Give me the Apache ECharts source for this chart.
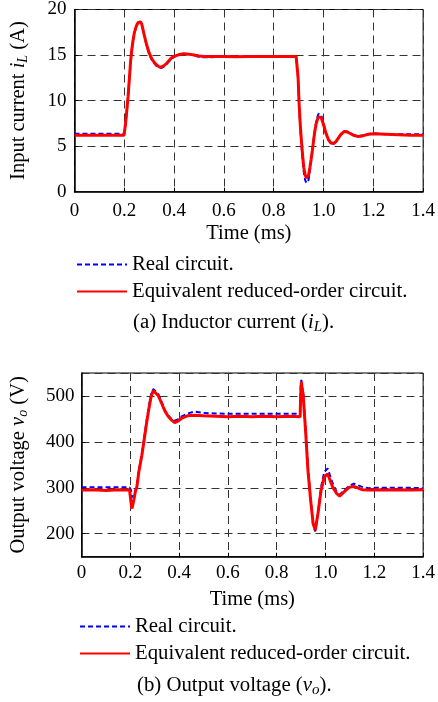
<!DOCTYPE html>
<html>
<head>
<meta charset="utf-8">
<script src="https://cdn.jsdelivr.net/npm/echarts@6/dist/echarts.min.js"></script>
<style>
html,body{margin:0;padding:0;background:#fff;}
#chart{width:438px;height:702px;}
</style>
</head>
<body>
<div id="chart"></div>
<script>
// ---- data: (a) inductor current ----
var tIL = [0, 0.1, 0.199, 0.2, 0.205,
  0.21, 0.215, 0.22, 0.225, 0.23,
  0.235, 0.24, 0.245, 0.25, 0.255,
  0.26, 0.265, 0.27, 0.28, 0.29,
  0.30, 0.31, 0.32, 0.33, 0.34,
  0.35, 0.36, 0.37, 0.38, 0.39,
  0.40, 0.42, 0.44, 0.46, 0.48,
  0.50, 0.52, 0.55, 0.60, 0.65,
  0.70, 0.75, 0.80, 0.85, 0.89,
  0.895, 0.898, 0.902, 0.907, 0.912,
  0.917, 0.921, 0.926, 0.931, 0.935,
  0.94, 0.945, 0.95, 0.955, 0.96,
  0.965, 0.97, 0.975, 0.98, 0.985,
  0.99, 0.995, 1.0, 1.01, 1.02,
  1.03, 1.04, 1.05, 1.06, 1.07,
  1.08, 1.09, 1.10, 1.12, 1.14,
  1.16, 1.18, 1.20, 1.25, 1.30,
  1.35, 1.40];
var iLReal = [6.35, 6.35, 6.35, 6.35, 7.4,
  8.8, 10.3, 12.2, 14.1, 15.5,
  16.5, 17.3, 17.9, 18.3, 18.55,
  18.7, 18.65, 18.4, 17.2, 16.0,
  15.1, 14.5, 14.1, 13.8, 13.6,
  13.6, 13.75, 14.0, 14.3, 14.6,
  14.8, 15.05, 15.15, 15.1, 14.95,
  14.8, 14.75, 14.75, 14.85, 14.8,
  14.85, 14.85, 14.85, 14.9, 14.9,
  14.85, 12.3, 9.4, 6.9, 4.9,
  3.2, 2.1, 1.3, 0.95, 0.9,
  1.3, 2.2, 3.3, 4.4, 5.6,
  6.7, 7.6, 8.2, 8.55, 8.65,
  8.45, 8.0, 7.5, 6.45, 5.65,
  5.3, 5.25, 5.45, 5.9, 6.3,
  6.6, 6.65, 6.55, 6.25, 6.1,
  6.2, 6.3, 6.4, 6.3, 6.3,
  6.3, 6.3];
var iLEquiv = [6.2, 6.2, 6.2, 6.2, 7.5,
  8.9, 10.4, 12.3, 14.2, 15.6,
  16.6, 17.4, 17.9, 18.3, 18.55,
  18.7, 18.65, 18.4, 17.2, 16.1,
  15.2, 14.6, 14.2, 13.9, 13.7,
  13.7, 13.85, 14.1, 14.4, 14.7,
  14.85, 15.05, 15.15, 15.1, 15.0,
  14.9, 14.85, 14.85, 14.85, 14.8,
  14.85, 14.85, 14.85, 14.85, 14.85,
  14.8, 12.5, 9.6, 7.2, 5.3,
  3.7, 2.6, 1.9, 1.5, 1.45,
  1.8, 2.6, 3.5, 4.5, 5.6,
  6.6, 7.4, 7.9, 8.2, 8.3,
  8.15, 7.8, 7.35, 6.4, 5.7,
  5.35, 5.3, 5.5, 5.9, 6.3,
  6.55, 6.6, 6.5, 6.2, 6.05,
  6.15, 6.3, 6.35, 6.3, 6.25,
  6.2, 6.2];

// ---- data: (b) output voltage ----
var tVo = [0, 0.05, 0.1, 0.15, 0.197,
  0.2, 0.203, 0.206, 0.21, 0.215,
  0.22, 0.227, 0.235, 0.247, 0.257,
  0.267, 0.277, 0.285, 0.294, 0.30,
  0.314, 0.33, 0.341, 0.355, 0.368,
  0.382, 0.395, 0.409, 0.436, 0.463,
  0.5, 0.55, 0.6, 0.65, 0.7,
  0.75, 0.8, 0.85, 0.896, 0.898,
  0.901, 0.904, 0.908, 0.919, 0.928,
  0.939, 0.949, 0.958, 0.969, 0.982,
  0.995, 1.009, 1.029, 1.045, 1.058,
  1.076, 1.096, 1.116, 1.15, 1.177,
  1.2, 1.25, 1.3, 1.35, 1.4];
var voReal = [301, 301, 301, 301, 301,
  301, 295, 280, 277, 282,
  292, 308, 337, 373, 410,
  447, 480, 503, 515, 517,
  505, 485, 470, 458, 450,
  446, 449, 455, 462, 466,
  463, 462, 461, 461, 461,
  461, 461, 461, 461, 520,
  535, 520, 510, 425, 345,
  275, 220, 205, 245, 302,
  335, 342, 310, 292, 285,
  294, 304, 309, 302, 299,
  300, 300, 300, 300, 299];
var voEquiv = [295, 296, 294, 296, 295,
  295, 268, 255, 262, 275,
  290, 302, 335, 370, 405,
  442, 475, 498, 512, 511,
  501, 482, 468, 456, 448,
  442, 445, 451, 457, 458,
  457, 456, 455, 456, 455,
  456, 455, 456, 455, 500,
  531, 515, 505, 418, 338,
  273, 223, 208, 244, 295,
  324, 330, 302, 288, 282,
  291, 301, 303, 296, 295,
  296, 295, 296, 295, 296];

var seriesNames = ['Real circuit.', 'Equivalent reduced-order circuit.'];
var xLabel = 'Time (ms)';
var yLabelA = 'Input current {i|i}{sub|L} (A)';
var yLabelB = 'Output voltage {i|v}{sub|o} (V)';
var captionA = '(a) Inductor current ({i|i}{sub|L}).';
var captionB = '(b) Output voltage ({i|v}{sub|o}).';

function pairs(t, v) { return t.map(function (x, k) { return [x, v[k]]; }); }

var FONT = 'Liberation Serif';
function richFor(size) {
  return {
    i: { fontFamily: FONT, fontSize: size, fontStyle: 'italic', color: '#000' },
    sub: { fontFamily: FONT, fontSize: Math.round(size * 0.7), fontStyle: 'italic', color: '#000', padding: [10, 0, 0, 0] }
  };
}

function xAxisCfg(gi, gap, margin) {
  return {
    type: 'value', gridIndex: gi, min: 0, max: 1.4, interval: 0.2,
    name: xLabel, nameLocation: 'middle', nameGap: gap,
    nameTextStyle: { fontFamily: FONT, fontSize: 20.5, color: '#000' },
    axisLine: { lineStyle: { color: '#000', width: 1.5 } },
    axisTick: { show: true, inside: true, length: 4, lineStyle: { color: '#000' } },
    axisLabel: { fontFamily: FONT, fontSize: 19, color: '#000', margin: margin,
      formatter: function (v) { return v === 0 ? '0' : v.toFixed(1); } },
    splitLine: { show: true, lineStyle: { color: '#333', type: [8, 5], width: 1 } }
  };
}
function yAxisCfg(gi, cfg) {
  var base = {
    type: 'value', gridIndex: gi,
    nameLocation: 'middle', nameRotate: 90,
    nameTextStyle: { fontFamily: FONT, fontSize: 20.5, color: '#000', rich: richFor(20.5) },
    axisLine: { show: true, lineStyle: { color: '#000', width: 1.5 } },
    axisTick: { show: true, inside: true, length: 4, lineStyle: { color: '#000' } },
    axisLabel: { fontFamily: FONT, fontSize: 19, color: '#000', margin: 8 },
    splitLine: { show: true, lineStyle: { color: '#333', type: [8, 5], width: 1 } }
  };
  for (var k in cfg) base[k] = cfg[k];
  return base;
}
function blue(gi, data) {
  return { name: seriesNames[0], type: 'line', xAxisIndex: gi, yAxisIndex: gi, data: data,
    symbol: 'none', silent: true, animation: false,
    lineStyle: { color: '#0000ff', width: 2, type: [5, 3] }, itemStyle: { color: '#0000ff' } };
}
function red(gi, data) {
  return { name: seriesNames[1], type: 'line', xAxisIndex: gi, yAxisIndex: gi, data: data,
    symbol: 'none', silent: true, animation: false,
    lineStyle: { color: '#ff0000', width: 3 }, itemStyle: { color: '#ff0000' } };
}
function legendCfg(left, top) {
  return { data: seriesNames, orient: 'vertical', left: left, top: top, padding: 0,
    itemWidth: 50, itemHeight: 12, itemGap: 6, selectedMode: false,
    itemStyle: { color: 'transparent', borderColor: 'transparent', borderWidth: 0, opacity: 0 },
    lineStyle: { width: 2 },
    textStyle: { fontFamily: FONT, fontSize: 20.8, color: '#000', lineHeight: 20 } };
}

var chart = echarts.init(document.getElementById('chart'), null, { renderer: 'canvas' });
chart.setOption({
  animation: false,
  backgroundColor: '#fff',
  grid: [
    { left: 72.7, top: 7.7, width: 353, height: 184, show: true, borderColor: '#000', borderWidth: 1, containLabel: false },
    { left: 79, top: 373, width: 346, height: 183.7, show: true, borderColor: '#000', borderWidth: 1, containLabel: false }
  ],
  xAxis: [xAxisCfg(0, 31, 10), xAxisCfg(1, 32, 7)],
  yAxis: [
    yAxisCfg(0, { min: 0, max: 20, interval: 5, name: yLabelA, nameGap: 44 }),
    yAxisCfg(1, { min: 150, max: 550, splitNumber: 4, name: yLabelB, nameGap: 51,
      axisLabel: { fontFamily: FONT, fontSize: 19, color: '#000', margin: 7, showMinLabel: false, showMaxLabel: false } })
  ],
  legend: [legendCfg(76, 254), legendCfg(79, 616)],
  series: [
    blue(0, pairs(tIL, iLReal)), red(0, pairs(tIL, iLEquiv)),
    blue(1, pairs(tVo, voReal)), red(1, pairs(tVo, voEquiv))
  ],
  graphic: [
    { type: 'text', left: 133, top: 312, silent: true,
      style: { text: captionA, fontFamily: FONT, fontSize: 20.8, fill: '#000', rich: richFor(20.8) } },
    { type: 'text', left: 137, top: 675, silent: true,
      style: { text: captionB, fontFamily: FONT, fontSize: 20.8, fill: '#000', rich: richFor(20.8) } }
  ]
});
</script>
</body>
</html>
